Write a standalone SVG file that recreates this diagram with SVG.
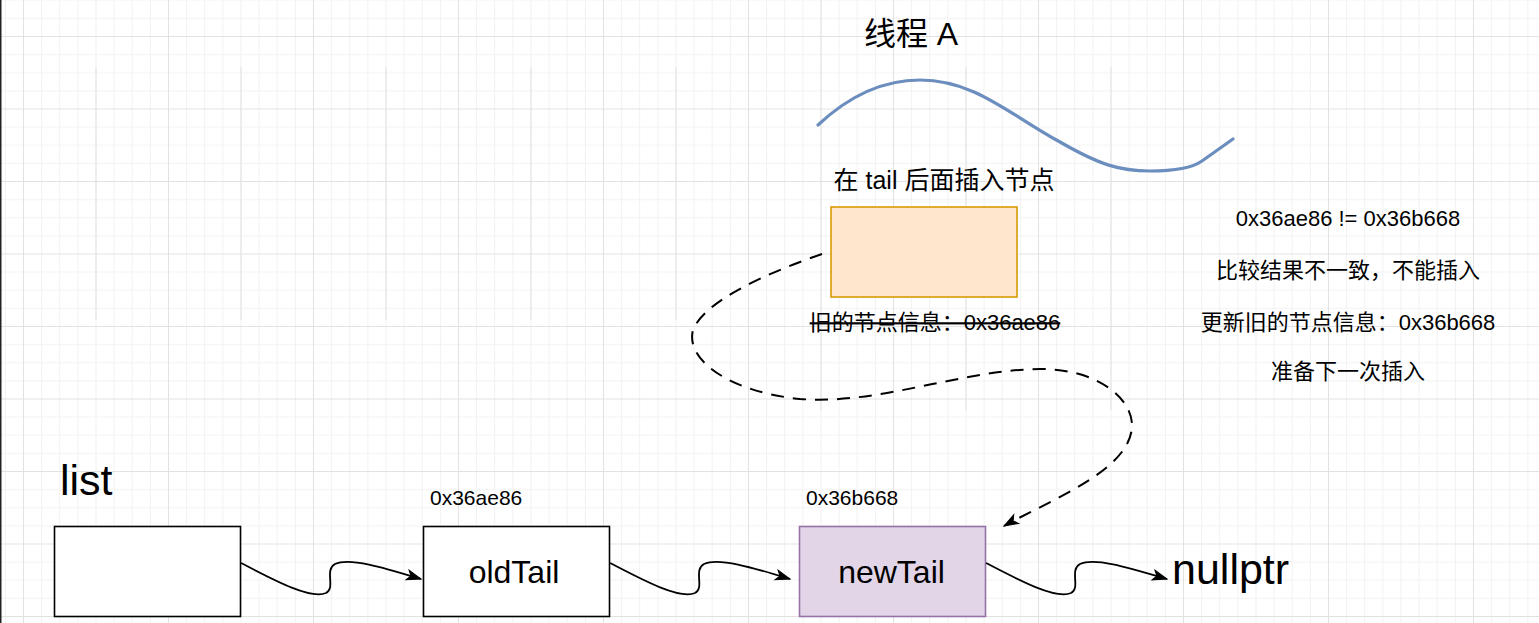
<svg xmlns="http://www.w3.org/2000/svg" width="1539" height="623" viewBox="0 0 1539 623">
  <style>
    .t { font-family: "Liberation Sans", "Noto Sans CJK SC", sans-serif; fill: #000; }
    .box { stroke: #000; stroke-width: 1.6; fill: #fff; }
    .conn { fill: none; stroke: #000; stroke-width: 1.8; }
    .dash { fill: none; stroke: #000; stroke-width: 2; stroke-dasharray: 13 9; }
    .gmaj { stroke: #e2e2e2; stroke-width: 1; }
  </style>
  <defs>
    <pattern id="grid" patternUnits="userSpaceOnUse" x="23" y="36" width="145" height="72.5">
      <g fill="#f2f2f2">
        <rect x="18.1" y="0" width="1" height="72.5"/>
        <rect x="36.2" y="0" width="1" height="72.5"/>
        <rect x="54.4" y="0" width="1" height="72.5"/>
        <rect x="72.5" y="0" width="1" height="72.5"/>
        <rect x="90.6" y="0" width="1" height="72.5"/>
        <rect x="108.7" y="0" width="1" height="72.5"/>
        <rect x="126.9" y="0" width="1" height="72.5"/>
        <rect x="0" y="18.1" width="145" height="1"/>
        <rect x="0" y="36.2" width="145" height="1"/>
        <rect x="0" y="54.4" width="145" height="1"/>
      </g>
      <g fill="#e2e2e2">
        <rect x="0" y="0" width="1" height="72.5"/>
        <rect x="0" y="0" width="145" height="1"/>
      </g>
    </pattern>
    <marker id="arr" markerUnits="userSpaceOnUse" markerWidth="16" markerHeight="12" refX="14" refY="5" orient="auto" overflow="visible">
      <path d="M0,0 L14,5 L0,10 L3.5,5 Z" fill="#000" stroke="#000" stroke-width="1"/>
    </marker>
  </defs>

  <g id="background">
    <rect x="0" y="0" width="1539" height="623" fill="#fff"/>
    <rect x="0" y="0" width="1539" height="623" fill="url(#grid)"/>
    <g class="gmaj">
      <line x1="96" y1="67" x2="96" y2="320"/>
      <line x1="241" y1="67" x2="241" y2="320"/>
      <line x1="386" y1="67" x2="386" y2="320"/>
      <line x1="531" y1="67" x2="531" y2="320"/>
      <line x1="676" y1="67" x2="676" y2="320"/>
      <line x1="821" y1="0" x2="821" y2="410"/>
      <line x1="966" y1="67" x2="966" y2="410"/>
      <line x1="1111" y1="67" x2="1111" y2="410"/>
    </g>
    <rect x="0" y="0" width="1.5" height="623" fill="#222"/>
  </g>

  <g id="thread-title">
    <text class="t" x="911" y="45" font-size="32" text-anchor="middle">线程 A</text>
  </g>

  <g id="thread-wave">
    <path d="M818,125 C850,95 885,80 920,80 C975,80 1010,115 1060,142 C1100,165 1120,171 1150,171 C1180,171 1195,166 1202,161 L1233,139" fill="none" stroke="#6c8ebf" stroke-width="3.2" stroke-linecap="round"/>
  </g>

  <g id="insert-node">
    <text class="t" x="944" y="189" font-size="25" text-anchor="middle">在 tail 后面插入节点</text>
    <rect x="831" y="207" width="186" height="90" fill="#ffe6cc" stroke="#d79b00" stroke-width="1.6"/>
    <text class="t" x="935" y="330" font-size="22" text-anchor="middle" text-decoration="line-through">旧的节点信息：0x36ae86</text>
  </g>

  <g id="notes">
    <text class="t" x="1348" y="226" font-size="22" text-anchor="middle">0x36ae86 != 0x36b668</text>
    <text class="t" x="1348" y="278" font-size="22" text-anchor="middle">比较结果不一致，不能插入</text>
    <text class="t" x="1348" y="330" font-size="22" text-anchor="middle">更新旧的节点信息：0x36b668</text>
    <text class="t" x="1348" y="379" font-size="22" text-anchor="middle">准备下一次插入</text>
  </g>

  <g id="list-node">
    <text class="t" x="60" y="495" font-size="43">list</text>
    <rect class="box" x="54.5" y="526.5" width="186" height="90"/>
  </g>

  <g id="oldTail-node">
    <text class="t" x="430" y="505" font-size="21">0x36ae86</text>
    <rect class="box" x="423.5" y="526.5" width="186" height="90"/>
    <text class="t" x="514" y="583" font-size="32" text-anchor="middle">oldTail</text>
  </g>

  <g id="newTail-node">
    <text class="t" x="806" y="505" font-size="21">0x36b668</text>
    <rect x="799.5" y="526.5" width="186" height="90" fill="#e1d5e7" stroke="#9673a6" stroke-width="1.6"/>
    <text class="t" x="891.5" y="583" font-size="32" text-anchor="middle">newTail</text>
  </g>

  <g id="nullptr-node">
    <text class="t" x="1172" y="584" font-size="43">nullptr</text>
  </g>

  <g id="connectors">
    <path class="conn" d="M241,563 C270,578 310,600 326,593 C336,588 324,570 335,564 C350,557 385,568 421,579" marker-end="url(#arr)"/>
    <path class="conn" d="M610,563 C639,578 679,600 695,593 C705,588 693,570 704,564 C719,557 754,568 790,579" marker-end="url(#arr)"/>
    <path class="conn" d="M986,563 C1015,578 1055,600 1071,593 C1081,588 1069,570 1080,564 C1095,557 1130,568 1167,579" marker-end="url(#arr)"/>
    <path class="dash" d="M822,254 C770,272 705,300 693,330 C685,360 730,392 800,399 C880,405 960,370 1040,369 C1100,369 1132,400 1132,425 C1132,470 1050,500 1004,526" marker-end="url(#arr)"/>
  </g>
</svg>
